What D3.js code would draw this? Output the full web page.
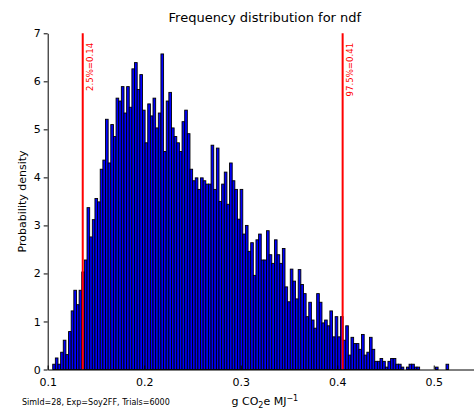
<!DOCTYPE html>
<html>
<head>
<meta charset="utf-8">
<script src="https://cdn.jsdelivr.net/npm/d3@7"></script>
<style>
  html, body { margin: 0; padding: 0; background: #fff; }
  svg { display: block; font-family: "DejaVu Sans", sans-serif; }
</style>
</head>
<body>
<svg id="chart" width="474" height="411"></svg>
<script>
// ---- data ----
const density = [
  0.11, 0.24, 0.11, 0.36, 0.61, 0.31, 0.79, 1.22, 1.65, 1.35,
  1.65, 2.03, 2.28, 3.37, 2.76, 3.12, 3.56, 3.49, 4.17, 4.36,
  5.21, 4.30, 5.10, 4.85, 5.65, 5.59, 5.89, 5.34, 5.89, 5.46,
  6.26, 6.39, 5.83, 6.14, 5.40, 4.72, 5.53, 5.28, 5.65, 5.03,
  5.34, 6.57, 4.54, 5.59, 5.77, 5.03, 4.85, 4.72, 4.54, 5.16,
  5.40, 4.91, 4.17, 3.93, 3.99, 3.75, 3.99, 3.93, 3.86, 3.86,
  4.67, 3.75, 4.61, 3.50, 3.86, 4.11, 3.44, 4.30, 3.93, 3.75,
  3.13, 3.75, 2.82, 3.00, 2.46, 2.64, 1.96, 2.70, 2.82, 2.28,
  2.28, 2.89, 2.39, 2.21, 2.70, 2.39, 2.21, 2.52, 1.72, 1.41,
  2.09, 1.84, 1.47, 2.08, 1.77, 1.58, 1.10, 1.40, 1.03, 0.86,
  1.58, 1.40, 0.97, 1.03, 0.91, 1.22, 0.68, 1.10, 0.68, 1.10,
  0.61, 0.91, 0.30, 0.67, 0.54, 0.54, 0.42, 0.73, 0.30, 0.36,
  0.67, 0.42, 0.17, 0.17, 0.23, 0.17, 0.05, 0.17, 0.23, 0.23,
  0.11, 0.11, 0.05, 0.00, 0.05, 0.11, 0.11, 0.05, 0.05, 0.00,
  0.00, 0.00, 0.00, 0.00, 0.00, 0.05, 0.00, 0.00, 0.00, 0.11
];
const binStart = 0.1052;
const binWidth = 0.002735;
const xTickValues = [0.1, 0.2, 0.3, 0.4, 0.5];
const yTickValues = [0, 1, 2, 3, 4, 5, 6, 7];
const quantileValues = [0.1363, 0.4056];
const quantileLabels = ["2.5%=0.14", "97.5%=0.41"];
const titleText = "Frequency distribution for ndf";
const yLabelText = "Probability density";
const footText = "SimId=28, Exp=Soy2FF, Trials=6000";

// ---- layout ----
const svg = d3.select("#chart");
const mLeft = 47.7, mRight = 482, mTop = 33.3, mBottom = 369.5;

const x = d3.scaleLinear().domain([0.1, 0.55]).range([mLeft, mRight]);
const y = d3.scaleLinear().domain([0, 7]).range([mBottom, mTop]);

const bins = density.map((d, i) => ({ x0: binStart + i * binWidth, x1: binStart + (i + 1) * binWidth, v: d }));

// bars
svg.append("g").selectAll("rect").data(bins).join("rect")
  .attr("x", d => x(d.x0))
  .attr("width", d => x(d.x1) - x(d.x0))
  .attr("y", d => y(d.v))
  .attr("height", d => y(0) - y(d.v))
  .attr("fill", "#0000ff")
  .attr("stroke", "#000")
  .attr("stroke-width", 0.9);

// quantile lines
const q = svg.append("g");
quantileValues.forEach((v, i) => {
  q.append("line")
    .attr("x1", x(v)).attr("x2", x(v))
    .attr("y1", y(7)).attr("y2", y(0))
    .attr("stroke", "#ff0000").attr("stroke-width", 2);
  q.append("text")
    .attr("transform", `translate(${x(v) + 10.5},${mTop + 9.5}) rotate(-90)`)
    .attr("text-anchor", "end")
    .attr("font-size", 8.6)
    .attr("fill", "#ff0000")
    .text(quantileLabels[i]);
});

// x axis
const xAxis = d3.axisBottom(x).tickValues(xTickValues).tickFormat(d3.format(".1f"))
  .tickSizeInner(-4).tickSizeOuter(0).tickPadding(9);
const gx = svg.append("g").attr("transform", `translate(0,${mBottom})`).call(xAxis);
gx.select(".domain").attr("stroke", "#000");
gx.selectAll("text").attr("font-size", 11).attr("fill", "#000").attr("font-family", "DejaVu Sans");

// y axis
const yAxis = d3.axisLeft(y).tickValues(yTickValues).tickFormat(d3.format("d"))
  .tickSizeInner(4).tickSizeOuter(0).tickPadding(3);
const gy = svg.append("g").attr("transform", `translate(${mLeft},0)`).call(yAxis);
gy.selectAll("text").attr("font-size", 11).attr("fill", "#000").attr("font-family", "DejaVu Sans");

// title
svg.append("text").attr("x", (mLeft + mRight) / 2).attr("y", 21.5)
  .attr("text-anchor", "middle").attr("font-size", 13).attr("fill", "#000")
  .text(titleText);

// y label
svg.append("text").attr("transform", `translate(26,${(mTop + mBottom) / 2}) rotate(-90)`)
  .attr("text-anchor", "middle").attr("font-size", 11).attr("fill", "#000")
  .text(yLabelText);

// x label with sub/superscript
const xl = svg.append("text").attr("x", (mLeft + mRight) / 2).attr("y", 405)
  .attr("text-anchor", "middle").attr("font-size", 11).attr("fill", "#000");
xl.append("tspan").text("g CO");
xl.append("tspan").attr("font-size", 8).attr("dy", 2.5).text("2");
xl.append("tspan").attr("dy", -2.5).text("e MJ");
xl.append("tspan").attr("font-size", 8).attr("dy", -4.5).text("\u22121");

// footnote
svg.append("text").attr("x", 22).attr("y", 404.5)
  .attr("font-size", 8).attr("fill", "#000").text(footText);
</script>
</body>
</html>
